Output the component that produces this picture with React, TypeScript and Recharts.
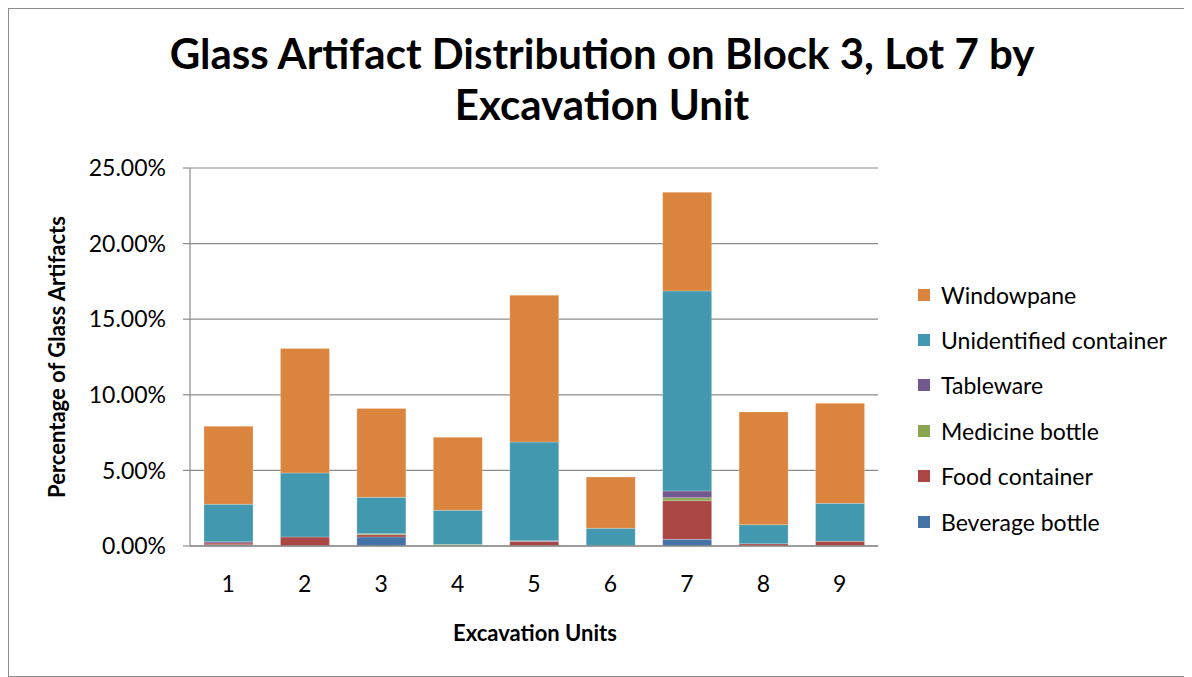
import { BarChart, Bar, XAxis, YAxis, CartesianGrid } from "recharts";

const units = ["1", "2", "3", "4", "5", "6", "7", "8", "9"];

// percentage of glass artifacts, by excavation unit
const beverageBottle = [0.08, 0, 0.6, 0, 0, 0, 0.44, 0, 0];
const foodContainer = [0.12, 0.6, 0.15, 0, 0.3, 0, 2.56, 0.15, 0.31];
const medicineBottle = [0, 0, 0.06, 0.1, 0, 0, 0.19, 0, 0];
const tableware = [0.08, 0, 0, 0, 0.05, 0, 0.45, 0, 0];
const unidentifiedContainer = [2.48, 4.23, 2.41, 2.26, 6.53, 1.17, 13.23, 1.26, 2.51];
const windowpane = [5.16, 8.24, 5.88, 4.83, 9.7, 3.39, 6.52, 7.45, 6.62];

const yTicks = [0, 5, 10, 15, 20, 25];

const series = [
  { key: "beverage", name: "Beverage bottle", color: "#4572A7", values: beverageBottle },
  { key: "food", name: "Food container", color: "#AA4643", values: foodContainer },
  { key: "medicine", name: "Medicine bottle", color: "#89A54E", values: medicineBottle },
  { key: "tableware", name: "Tableware", color: "#71588F", values: tableware },
  { key: "unidentified", name: "Unidentified container", color: "#4198AF", values: unidentifiedContainer },
  { key: "windowpane", name: "Windowpane", color: "#DB843D", values: windowpane },
];

const data = units.map((u, i) => {
  const row: Record<string, string | number> = { unit: u };
  series.forEach((s) => {
    row[s.key] = s.values[i];
  });
  return row;
});

const font = "Lato, 'Open Sans', sans-serif";

export default function App() {
  return (
    <div
      style={{
        position: "relative",
        width: 1182,
        height: 667,
        border: "1px solid #8c8c8c",
        background: "#fff",
        fontFamily: font,
        color: "#000",
      }}
    >
      <div
        style={{
          position: "absolute",
          left: 0,
          width: 1186,
          top: 19,
          textAlign: "center",
          fontSize: 42,
          fontWeight: 700,
          lineHeight: "51px",
        }}
      >
        Glass Artifact Distribution on Block 3, Lot 7 by
        <br />
        Excavation Unit
      </div>

      <div
        style={{
          position: "absolute",
          left: 48 - 160,
          top: 348 - 15,
          width: 320,
          textAlign: "center",
          transform: "rotate(-90deg)",
          fontSize: 22,
          fontWeight: 700,
          lineHeight: "30px",
        }}
      >
        Percentage of Glass Artifacts
      </div>

      <div
        style={{
          position: "absolute",
          left: 526 - 200,
          top: 610,
          width: 400,
          textAlign: "center",
          fontSize: 22,
          fontWeight: 700,
        }}
      >
        Excavation Units
      </div>

      <div style={{ position: "absolute", left: 0, top: 0 }}>
        <BarChart
          width={1180}
          height={660}
          data={data}
          margin={{ top: 159, right: 311, bottom: 93, left: 101 }}
          barSize={49}
        >
          <CartesianGrid vertical={false} stroke="#8c8c8c" strokeWidth={1.2} />
          <XAxis
            dataKey="unit"
            height={30}
            tickLine={false}
            tickSize={0}
            tickMargin={30}
            stroke="#8c8c8c"
            strokeWidth={1.5}
            tick={{ fill: "#000", fontSize: 23, fontFamily: font }}
          />
          <YAxis
            width={80}
            domain={[0, 25]}
            ticks={yTicks}
            interval={0}
            tickFormatter={(v: number) => `${v.toFixed(2)}%`}
            tickSize={7}
            tickMargin={17}
            stroke="#8c8c8c"
            strokeWidth={1.2}
            tick={{ fill: "#000", fontSize: 23, fontFamily: font }}
          />
          {series.map((s) => (
            <Bar
              key={s.key}
              dataKey={s.key}
              name={s.name}
              stackId="glass"
              fill={s.color}
              stroke="rgba(255,255,255,0.3)"
              strokeWidth={0.8}
              isAnimationActive={false}
            />
          ))}
        </BarChart>
      </div>

      <div style={{ position: "absolute", left: 909, top: 263 }}>
        {[...series].reverse().map((s) => (
          <div
            key={s.key}
            style={{
              display: "flex",
              alignItems: "center",
              height: 45.4,
              fontSize: 23,
            }}
          >
            <span
              style={{
                display: "inline-block",
                width: 12,
                height: 12,
                background: s.color,
                marginRight: 11,
              }}
            />
            {s.name}
          </div>
        ))}
      </div>
    </div>
  );
}
